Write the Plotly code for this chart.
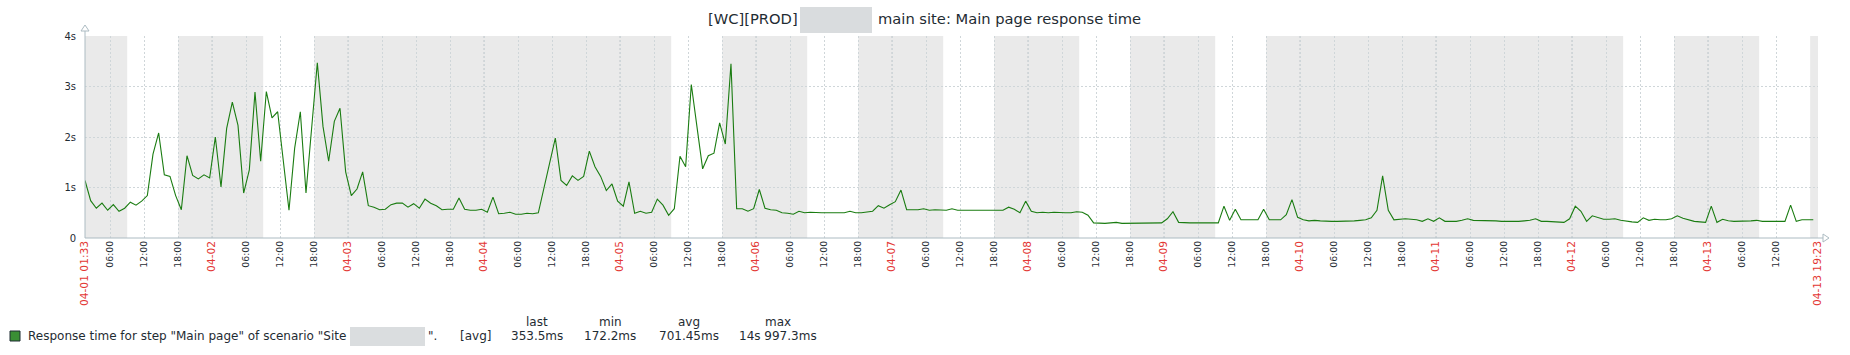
import plotly.graph_objects as go
import pandas as pd

# ---------------- data ----------------
START = "2021-04-01 01:33"
END = "2021-04-13 19:23"

response_s = [
    1.14, 0.74, 0.59, 0.69, 0.55, 0.66, 0.53, 0.59, 0.71, 0.65,
    0.73, 0.84, 1.66, 2.08, 1.25, 1.22, 0.84, 0.56, 1.63, 1.24,
    1.17, 1.25, 1.19, 2.00, 1.01, 2.17, 2.69, 2.23, 0.89, 1.35,
    2.89, 1.52, 2.90, 2.38, 2.50, 1.52, 0.55, 1.78, 2.50, 0.89,
    2.24, 3.47, 2.21, 1.52, 2.31, 2.57, 1.31, 0.84, 0.97, 1.31,
    0.64, 0.61, 0.56, 0.57, 0.66, 0.69, 0.69, 0.61, 0.68, 0.59,
    0.77, 0.69, 0.64, 0.56, 0.57, 0.57, 0.79, 0.57, 0.55, 0.55,
    0.57, 0.51, 0.81, 0.48, 0.49, 0.51, 0.47, 0.47, 0.49, 0.48,
    0.50, 0.98, 1.52, 1.98, 1.14, 1.04, 1.23, 1.14, 1.22, 1.72,
    1.41, 1.22, 0.94, 1.07, 0.73, 0.63, 1.11, 0.49, 0.53, 0.49,
    0.51, 0.77, 0.65, 0.45, 0.58, 1.62, 1.41, 3.04, 2.20, 1.37,
    1.63, 1.68, 2.28, 1.86, 3.45, 0.58, 0.58, 0.53, 0.58, 0.96,
    0.59, 0.56, 0.55, 0.50, 0.49, 0.47, 0.53, 0.50, 0.51, 0.50,
    0.50, 0.50, 0.50, 0.50, 0.50, 0.53, 0.50, 0.50, 0.51, 0.53,
    0.64, 0.59, 0.66, 0.72, 0.95, 0.56, 0.56, 0.56, 0.58, 0.55,
    0.56, 0.55, 0.55, 0.58, 0.55, 0.55, 0.55, 0.55, 0.56, 0.55,
    0.55, 0.55, 0.55, 0.61, 0.57, 0.50, 0.73, 0.53, 0.50, 0.51,
    0.50, 0.51, 0.50, 0.50, 0.50, 0.52, 0.51, 0.45, 0.30, 0.29,
    0.29, 0.30, 0.31, 0.29, 0.29, 0.29, 0.29, 0.29, 0.29, 0.29,
    0.30, 0.38, 0.52, 0.31, 0.30, 0.30, 0.30, 0.30, 0.30, 0.30,
    0.30, 0.63, 0.35, 0.57, 0.36, 0.36, 0.36, 0.36, 0.57, 0.36,
    0.36, 0.36, 0.46, 0.76, 0.41, 0.36, 0.34, 0.35, 0.34, 0.33,
    0.33, 0.33, 0.33, 0.33, 0.34, 0.35, 0.36, 0.40, 0.55, 1.23,
    0.55, 0.36, 0.37, 0.38, 0.37, 0.36, 0.33, 0.38, 0.33, 0.40,
    0.33, 0.33, 0.33, 0.35, 0.38, 0.35, 0.35, 0.35, 0.35, 0.34,
    0.33, 0.33, 0.32, 0.33, 0.34, 0.35, 0.38, 0.33, 0.33, 0.32,
    0.32, 0.31, 0.38, 0.63, 0.53, 0.33, 0.44, 0.40, 0.37, 0.37,
    0.38, 0.35, 0.33, 0.32, 0.31, 0.40, 0.35, 0.37, 0.36, 0.36,
    0.38, 0.44, 0.39, 0.36, 0.33, 0.32, 0.31, 0.63, 0.31, 0.37,
    0.34, 0.33, 0.33, 0.33, 0.34, 0.35, 0.33, 0.33, 0.33, 0.33,
    0.33, 0.65, 0.33, 0.36, 0.36, 0.36,
]
times = pd.date_range(START, periods=len(response_s), freq="h")

# days with white (working-time) band 09:00-18:00
work_days = ["2021-04-01", "2021-04-02", "2021-04-05", "2021-04-06",
             "2021-04-07", "2021-04-08", "2021-04-09", "2021-04-12",
             "2021-04-13"]
day_starts = pd.date_range("2021-04-02", "2021-04-13", freq="D")

y_ticks = [0, 1, 2, 3, 4]
y_labels = ["0", "1s", "2s", "3s", "4s"]

title_left = "[WC][PROD]"
title_right = "main site: Main page response time"
legend_label = 'Response time for step "Main page" of scenario "Site'
legend_tail = '".'
legend_func = "[avg]"
stat_names = ["last", "min", "avg", "max"]
stat_values = ["353.5ms", "172.2ms", "701.45ms", "14s 997.3ms"]

# ---------------- layout geometry (pixels) ----------------
FW, FH = 1850, 355
L, R, T, B = 85, 1818, 36, 238
W, H = R - L, B - T

def px(xp):
    return (xp - L) / W

def py(yp):
    return (B - yp) / H

DARK = "#1F2C33"
RED = "#E33734"
AXIS = "#ACBBC2"
GRID = "#CFD6D9"
DAYGRID = "#A9B3B8"
FONT = "DejaVu Sans"

# ticks
six_h = pd.date_range("2021-04-01 06:00", "2021-04-13 12:00", freq="6h")
tickvals = [pd.Timestamp(START)] + list(six_h) + [pd.Timestamp(END)]
ticktext = []
for i, t in enumerate(tickvals):
    if i == 0 or i == len(tickvals) - 1:
        ticktext.append(f"<span style='color:{RED};font-size:10.7px'>{t.strftime('%m-%d %H:%M')}</span>")
    elif t.hour == 0:
        ticktext.append(f"<span style='color:{RED};font-size:10.7px'>{t.strftime('%m-%d')}</span>")
    else:
        ticktext.append(t.strftime("%H:%M"))

fig = go.Figure()
fig.add_trace(go.Scatter(x=times, y=response_s, mode="lines",
                         line=dict(color="#1A7C11", width=1.1),
                         hoverinfo="skip", showlegend=False))

shapes = []
for d in work_days:
    d0 = pd.Timestamp(d)
    shapes.append(dict(type="rect", xref="x", yref="paper",
                       x0=d0 + pd.Timedelta(hours=9), x1=d0 + pd.Timedelta(hours=18),
                       y0=0, y1=1, fillcolor="white", line=dict(width=0), layer="below"))
for d in day_starts:
    shapes.append(dict(type="line", xref="x", yref="paper", x0=d, x1=d, y0=0, y1=1,
                       line=dict(color=DAYGRID, width=1, dash="2px,2px"), layer="between"))
# axis lines with arrows
shapes.append(dict(type="line", xref="paper", yref="paper", x0=px(85), x1=px(85),
                   y0=py(238), y1=py(30), line=dict(color=AXIS, width=1)))
shapes.append(dict(type="line", xref="paper", yref="paper", x0=px(85), x1=px(1823),
                   y0=py(238), y1=py(238), line=dict(color=AXIS, width=1)))
shapes.append(dict(type="path", xref="paper", yref="paper",
                   path=f"M {px(85)} {py(25)} L {px(81)} {py(31)} L {px(89)} {py(31)} Z",
                   line=dict(color=AXIS, width=1), fillcolor="white"))
shapes.append(dict(type="path", xref="paper", yref="paper",
                   path=f"M {px(1829)} {py(238)} L {px(1823)} {py(234)} L {px(1823)} {py(242)} Z",
                   line=dict(color=AXIS, width=1), fillcolor="white"))
# redaction boxes
shapes.append(dict(type="rect", xref="paper", yref="paper", x0=px(800), x1=px(872),
                   y0=py(33), y1=py(7), fillcolor="#D9DCDE", line=dict(width=0)))
shapes.append(dict(type="rect", xref="paper", yref="paper", x0=px(350), x1=px(425),
                   y0=py(346), y1=py(327), fillcolor="#DADDDF", line=dict(width=0)))
# legend square
shapes.append(dict(type="rect", xref="paper", yref="paper", x0=px(10), x1=px(20),
                   y0=py(341), y1=py(331), fillcolor="#3A8F35",
                   line=dict(color="#1F2C33", width=1)))

annotations = []

def ann(xp, yp, text, xanchor="left", size=12, color=DARK):
    annotations.append(dict(xref="paper", yref="paper", x=px(xp), y=py(yp), text=text,
                            xanchor=xanchor, yanchor="middle", showarrow=False,
                            font=dict(family=FONT, size=size, color=color)))

ann(706, 19, title_left, size=14.7)
ann(876, 19, title_right, size=14.7)
ann(26, 336, legend_label)
ann(426, 336, legend_tail)
ann(458, 336, legend_func)
for cx, nm, val in zip([537, 610, 689, 778], stat_names, stat_values):
    ann(cx, 322, nm, xanchor="center")
    ann(cx, 336, val, xanchor="center")

fig.update_layout(
    width=FW, height=FH,
    margin=dict(l=L, r=FW - R, t=T, b=FH - B, autoexpand=False),
    paper_bgcolor="white", plot_bgcolor="#EAEAEA",
    font=dict(family=FONT, color=DARK),
    shapes=shapes, annotations=annotations,
    xaxis=dict(type="date", range=[START, END], tickmode="array", tickvals=tickvals,
               ticktext=ticktext, tickangle=-90, tickfont=dict(size=9.3, color=DARK, family=FONT),
               showgrid=True, gridcolor=GRID, griddash="2px,2px", gridwidth=1,
               showline=False, zeroline=False, ticks="", fixedrange=True),
    yaxis=dict(range=[0, 4], tickmode="array", tickvals=y_ticks, ticktext=y_labels,
               tickfont=dict(size=10, color=DARK, family=FONT),
               showgrid=True, gridcolor=GRID, griddash="2px,2px", gridwidth=1,
               showline=False, zeroline=False, ticks="", ticklabelstandoff=8,
               fixedrange=True),
)

fig.write_html("out.html")
